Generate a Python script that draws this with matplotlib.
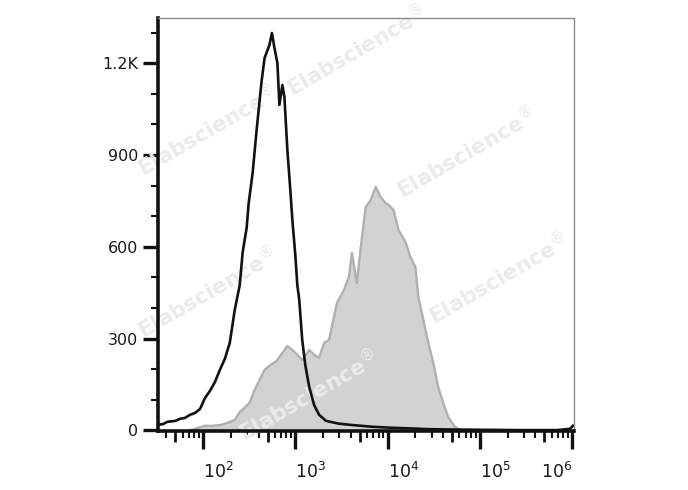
#!/usr/bin/env python3
"""Flow histogram: unstained control (black line) vs stained sample (gray fill)."""

import numpy as np
import matplotlib

matplotlib.use("Agg")
import matplotlib.pyplot as plt
from matplotlib.ticker import FixedLocator, LogLocator, NullFormatter

W, H = 688, 490

# control (black outline): log10 intensity and event count
ctrl_log = [1.516, 1.570, 1.613, 1.699, 1.753, 1.806, 1.860, 1.914, 1.968, 2.022,
            2.075, 2.129, 2.183, 2.237, 2.290, 2.344, 2.398, 2.430, 2.473, 2.495,
            2.538, 2.581, 2.634, 2.667, 2.699, 2.720, 2.747, 2.774, 2.806, 2.828,
            2.860, 2.882, 2.914, 2.946, 2.968, 3.000, 3.022, 3.043, 3.075, 3.108,
            3.151, 3.204, 3.258, 3.333, 3.473, 3.634, 3.828, 4.011, 4.194, 4.441,
            4.656, 4.978, 5.409, 5.839, 5.976, 6.008]
ctrl_cnt = [18, 21, 28, 31, 38, 41, 51, 57, 70, 106,
            129, 158, 198, 234, 286, 394, 475, 583, 662, 743,
            842, 982, 1139, 1217, 1243, 1260, 1299, 1250, 1201, 1064,
            1129, 1090, 917, 786, 688, 574, 475, 426, 296, 214,
            142, 83, 51, 31, 22, 17, 12, 9, 7, 4,
            3, 2, 1, 1, 5, 15]

# stained sample (gray filled)
samp_log = [1.839, 1.914, 2.022, 2.108, 2.194, 2.269, 2.344, 2.398, 2.452, 2.505,
            2.559, 2.613, 2.667, 2.720, 2.796, 2.860, 2.914, 2.968, 3.022, 3.075,
            3.151, 3.204, 3.258, 3.312, 3.366, 3.452, 3.527, 3.581, 3.613, 3.667,
            3.710, 3.763, 3.817, 3.871, 3.925, 3.978, 4.011, 4.065, 4.118, 4.194,
            4.247, 4.301, 4.333, 4.387, 4.441, 4.495, 4.548, 4.602, 4.656, 4.731,
            4.796]
samp_cnt = [0, 5, 15, 15, 18, 25, 34, 60, 74, 90,
            132, 165, 198, 211, 227, 253, 276, 263, 247, 230,
            263, 247, 237, 286, 296, 417, 459, 502, 580, 482,
            600, 730, 753, 796, 763, 743, 737, 720, 655, 616,
            567, 534, 436, 361, 286, 221, 142, 90, 44, 11,
            0]

y_ticks = [0, 300, 600, 900, 1200]
y_labels = ["0", "300", "600", "900", "1.2K"]
x_decades = [2, 3, 4, 5, 6]

# watermark centres in pixels (x, y from top)
marks = [(356, 50), (207, 130), (466, 152), (207, 292), (498, 278), (308, 395)]


def main() -> None:
    fig = plt.figure(figsize=(W / 100, H / 100), dpi=100)
    ax = fig.add_axes([158 / W, 1 - 431 / H, (574 - 158) / W, (431 - 18.3) / H])

    sx = 10 ** np.array(samp_log)
    cx = 10 ** np.array(ctrl_log)
    ax.fill_between(sx, samp_cnt, 0, color="#d2d2d2", linewidth=0, zorder=1)
    ax.plot(sx, samp_cnt, color="#b0b0b0", linewidth=1.7, zorder=1.5)
    ax.plot(cx, ctrl_cnt, color="#111111", linewidth=1.9, zorder=3)

    for px, py in marks:
        ax.text(px / W, 1 - py / H, r"Elabscience$^{\circledR}$", transform=fig.transFigure,
                rotation=30, ha="center", va="center", rotation_mode="anchor",
                fontsize=15.5, fontweight="bold", color="#ebebeb", zorder=2, clip_on=False)

    ax.set_xscale("log")
    ax.set_xlim(10 ** 1.5125, 10 ** 6.0195)
    ax.set_ylim(-2, 1347)

    ax.xaxis.set_major_locator(FixedLocator([10.0 ** d for d in x_decades]))
    ax.set_xticklabels([rf"$10^{{{d}}}$" for d in x_decades])
    ax.xaxis.set_minor_locator(LogLocator(base=10, subs=[2, 3, 4, 6, 7, 8, 9], numticks=20))
    ax.xaxis.set_minor_formatter(NullFormatter())
    ax.tick_params(axis="x", which="major", length=13, width=2.4, pad=9,
                   labelsize=12.5, labelcolor="#1a1a1a", color="#111111")
    ax.tick_params(axis="x", which="minor", length=5, width=1.5, color="#111111")
    for i, lab in enumerate(ax.get_xticklabels()):
        lab.set_horizontalalignment("right" if i == len(x_decades) - 1 else "left")

    # medium ticks at 5 x 10^n
    sec = ax.secondary_xaxis("bottom")
    sec.spines["bottom"].set_visible(False)
    sec.xaxis.set_major_locator(FixedLocator([5 * 10.0 ** d for d in range(1, 6)]))
    sec.xaxis.set_minor_locator(FixedLocator([]))
    sec.xaxis.set_major_formatter(NullFormatter())
    sec.tick_params(axis="x", which="major", length=8, width=2.0, color="#111111")

    ax.set_yticks(y_ticks)
    ax.set_yticklabels(y_labels)
    ax.yaxis.set_minor_locator(FixedLocator([v for v in range(100, 1400, 100) if v % 300]))
    ax.tick_params(axis="y", which="major", length=11, width=2.4, pad=3,
                   labelsize=11.5, labelcolor="#1a1a1a", color="#111111")
    ax.tick_params(axis="y", which="minor", length=5, width=1.5, color="#111111")

    for side in ("left", "bottom"):
        ax.spines[side].set_linewidth(2.6)
        ax.spines[side].set_color("#111111")
    for side in ("top", "right"):
        ax.spines[side].set_linewidth(1.0)
        ax.spines[side].set_color("#8c8c8c")

    fig.savefig("out.png", dpi=100)
    plt.close(fig)


if __name__ == "__main__":
    main()
